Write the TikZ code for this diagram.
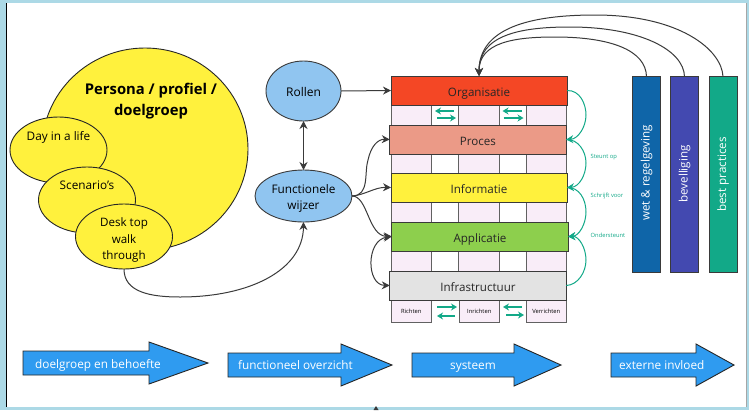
\documentclass[tikz,border=0pt]{standalone}
\usepackage{fontspec}
\setmainfont{Open Sans}
\usetikzlibrary{shapes.geometric,shapes.arrows,arrows.meta,calc}
\definecolor{bgblue}{HTML}{ACD9E6}
\definecolor{sunny}{HTML}{FFF13D}
\definecolor{skyb}{HTML}{90C5F0}
\definecolor{pinkc}{HTML}{F9EDF8}
\definecolor{teal1}{HTML}{12A988}
\definecolor{arrowb}{HTML}{2F9BF0}
\definecolor{ink}{HTML}{3A3A3A}
\definecolor{orgc}{HTML}{F44725}
\definecolor{proc}{HTML}{EB9A87}
\definecolor{appc}{HTML}{8DCF4D}
\definecolor{infc}{HTML}{E3E3E3}
\definecolor{barA}{HTML}{0F65A8}
\definecolor{barB}{HTML}{4349B0}
\tikzset{
 x=1pt,y=-1pt,
 fs/.style={font=\fontsize{#1}{16.5}\selectfont},
 ell/.style={ellipse,draw=ink,line width=.9pt,inner sep=0pt,outer sep=0pt},
 yell/.style={ell,fill=sunny,draw=black!85},
 blue/.style={ell,fill=skyb},
 layer/.style={draw=ink,line width=1pt,inner sep=0pt,outer sep=0pt,minimum height=29pt,text=black!85,fs=11.6,text height=11pt,text depth=0pt},
 cell/.style={draw=ink!80,line width=.9pt,inner sep=0pt,outer sep=0pt,minimum height=20pt,fill=pinkc},
 wcell/.style={cell,fill=white},
 conn/.style={draw=ink,line width=1pt,-{Stealth[length=8pt,width=8pt]}},
 conn2/.style={draw=ink,line width=1pt,{Stealth[length=8pt,width=8pt]}-{Stealth[length=8pt,width=8pt]}},
 gr/.style={draw=teal1,line width=1pt,-{Stealth[length=7pt,width=8pt]}},
 grs/.style={draw=teal1,line width=1.2pt,-{Stealth[length=6pt,width=7pt]}},
 bar/.style={draw=ink,line width=1pt,inner sep=0pt,outer sep=0pt,minimum width=27.5pt,minimum height=195.5pt,text=white},
 big/.style={draw=black!85,line width=.9pt,fill=arrowb,text=white},
 tl/.style={text=teal1,fs=5.8,inner sep=0pt,anchor=west},
 btext/.style={text=white,fs=11.8,anchor=base west,inner sep=0pt},
 ctext/.style={fs=5.8,text height=5pt,text depth=0pt},
 bartext/.style={font=\fontsize{11.6}{14}\selectfont},
}
\newcommand{\bigarrow}[4]{% x0, xbase, xtip, ytip
 \draw[big] (#1,#4-12) -- (#2,#4-12) -- (#2,#4-21) -- (#3,#4) -- (#2,#4+21) -- (#2,#4+12) -- (#1,#4+12) -- cycle;
}
\begin{document}
\begin{tikzpicture}
\useasboundingbox (0,0) rectangle (749,410);
\fill[bgblue] (0,0) rectangle (749,410);
\fill[white] (6,3) rectangle (746,407);
\draw[black,line width=.8pt] (6,3) -- (6,407);
\draw[gray!70,line width=.6pt] (746,3) -- (746,407);
\fill[ink] (376,406) -- (373.5,410) -- (378.5,410) -- cycle;

% persona cluster
\node[yell,minimum width=206pt,minimum height=202pt,label={[font=\bfseries\fontsize{14.8}{20.5}\selectfont,align=center,yshift=48pt,xshift=6pt]center:Persona / profiel /\\doelgroep}] (persona) at (145,149) {};
\node[yell,minimum width=97pt,minimum height=66pt,label={[fs=11.8,yshift=13pt]center:Day in a life}] (day) at (58.5,150) {};
\node[yell,minimum width=97pt,minimum height=66pt,label={[fs=11.8,yshift=15pt]center:Scenario's}] (scen) at (87,200) {};
\node[yell,minimum width=97pt,minimum height=65pt,label={[fs=11.6,align=center,yshift=-3.5pt]center:Desk top\\walk\\through}] (desk) at (124,236.5) {};

% blue ellipses
\node[blue,minimum width=75pt,minimum height=60pt,fs=12,text height=10pt,text depth=0pt] (rollen) at (303.5,91) {Rollen};
\node[blue,minimum width=97pt,minimum height=52pt,label={[fs=11.8,align=center,yshift=-2.5pt]center:Functionele\\wijzer}] (func) at (303.5,196) {};

% cell rows
\foreach \n/\y in {a/105,b/154,c/202,d/251}{
 \node[cell,minimum width=40.5pt,anchor=north west] (\n1) at (391,\y) {};
 \node[wcell,minimum width=27pt,anchor=north west] (\n2) at (431.5,\y) {};
 \node[cell,minimum width=40.5pt,anchor=north west] (\n3) at (458.5,\y) {};
 \node[wcell,minimum width=27pt,anchor=north west] (\n4) at (499,\y) {};
 \node[cell,minimum width=40.5pt,anchor=north west] (\n5) at (526,\y) {};
}
\node[cell,minimum width=40.5pt,minimum height=22pt,anchor=north west,ctext] (e1) at (391,300) {Richten};
\node[cell,minimum width=40.5pt,minimum height=22pt,anchor=north west,ctext] (e3) at (459,300) {Inrichten};
\node[cell,minimum width=40.5pt,minimum height=22pt,anchor=north west,ctext] (e5) at (526,300) {Verrichten};

% layers
\node[layer,fill=orgc,minimum width=176pt] (org) at (479,90.5) {Organisatie};
\node[layer,fill=proc,minimum width=176.5pt] (proces) at (478,139.5) {Proces};
\node[layer,fill=sunny,minimum width=176pt] (info) at (479,187.5) {Informatie};
\node[layer,fill=appc,minimum width=176.5pt] (app) at (480,236.5) {Applicatie};
\node[layer,fill=infc,minimum width=176.5pt] (infra) at (478,285.5) {Infrastructuur};

% small green arrows
\coordinate (g1) at (a2.center); \coordinate (g2) at (a4.center);
\coordinate (g3) at (445,311); \coordinate (g4) at (513,311);
\draw[grs] ($(g1)+(9,-4)$) -- ($(g1)+(-10,-4)$);
\draw[grs] ($(g1)+(-8,3)$) -- ($(g1)+(11,3)$);
\draw[grs] ($(g2)+(9,-4)$) -- ($(g2)+(-10,-4)$);
\draw[grs] ($(g2)+(-9,3)$) -- ($(g2)+(11,3)$);
\draw[grs] ($(g3)+(-8,-4)$) -- ($(g3)+(12,-4)$);
\draw[grs] ($(g3)+(10,5)$) -- ($(g3)+(-8,5)$);
\draw[grs] ($(g4)+(9,-4)$) -- ($(g4)+(-10,-4)$);
\draw[grs] ($(g4)+(-7,4)$) -- ($(g4)+(11,4)$);

% green curves
\draw[gr] (org.east) .. controls (580,90) and (586,104) .. (586,115) .. controls (586,127) and (578,139) .. (proces.east);
\draw[gr] (proces.east) .. controls (578,139) and (586,151) .. (586,163) .. controls (586,175) and (579,187) .. (info.east);
\draw[gr] (info.east) .. controls (579,187) and (586,199) .. (586,212) .. controls (586,224) and (579,236) .. (app.east);
\draw[gr] (infra.east) .. controls (578,285) and (586,272) .. (586,260) .. controls (586,248) and (579,236) .. (app.east);
\node[tl] (l1) at (590.5,157) {Steunt op};
\node[tl] (l2) at (590.5,196) {Schrijft voor};
\node[tl] (l3) at (590.5,235) {Ondersteunt};

% bars
\node[bar,fill=barA,label={[bartext,rotate=90,text=white,xshift=1.5pt]center:wet \& regelgeving}] (wet) at (646.5,174.5) {};
\node[bar,fill=barB,label={[bartext,rotate=90,text=white,xshift=.5pt]center:bevelliging}] (bev) at (684.5,174.5) {};
\node[bar,fill=teal1,minimum width=28pt,label={[bartext,rotate=90,text=white]center:best practices}] (best) at (723,174.5) {};

% black connectors
\draw[conn] (wet.north) .. controls (646,50) and (610,37) .. (555,37) .. controls (515,37) and (479,42) .. (org.north);
\draw[conn] (bev.north) .. controls (684,50) and (640,27) .. (570,27) .. controls (520,27) and (479,35) .. (org.north);
\draw[conn] (best.north) .. controls (722,50) and (680,15) .. (595,15) .. controls (530,15) and (479,28) .. (org.north);
\draw[conn] (rollen.east) -- (org.west);
\draw[conn2] (rollen.south) -- (func.north);
\draw[conn] (func.east) .. controls (370,196) and (364,172) .. (368,160) .. controls (371,146) and (378,139) .. (proces.west);
\draw[conn] (func.east) .. controls (365,195) and (375,187) .. (info.west);
\draw[conn] (func.east) .. controls (368,196) and (368,236) .. (app.west);
\draw[conn2] (app.west) .. controls (366,240) and (366,285) .. (infra.west);
\draw[conn] (desk.south) .. controls (124,292) and (150,297) .. (180,297) .. controls (250,297) and (303,270) .. (func.south);

% bottom arrows
\bigarrow{23}{149}{208}{363}
\node[btext] (t1) at (35,368) {doelgroep en behoefte};
\bigarrow{228}{341}{392}{365}
\node[btext] (t2) at (238,369.5) {functioneel overzicht};
\bigarrow{412}{514}{561}{365}
\node[btext] (t3) at (450,369.5) {systeem};
\bigarrow{611}{696}{734}{365}
\node[btext] (t4) at (619,369.5) {externe invloed};
\end{tikzpicture}
\end{document}
